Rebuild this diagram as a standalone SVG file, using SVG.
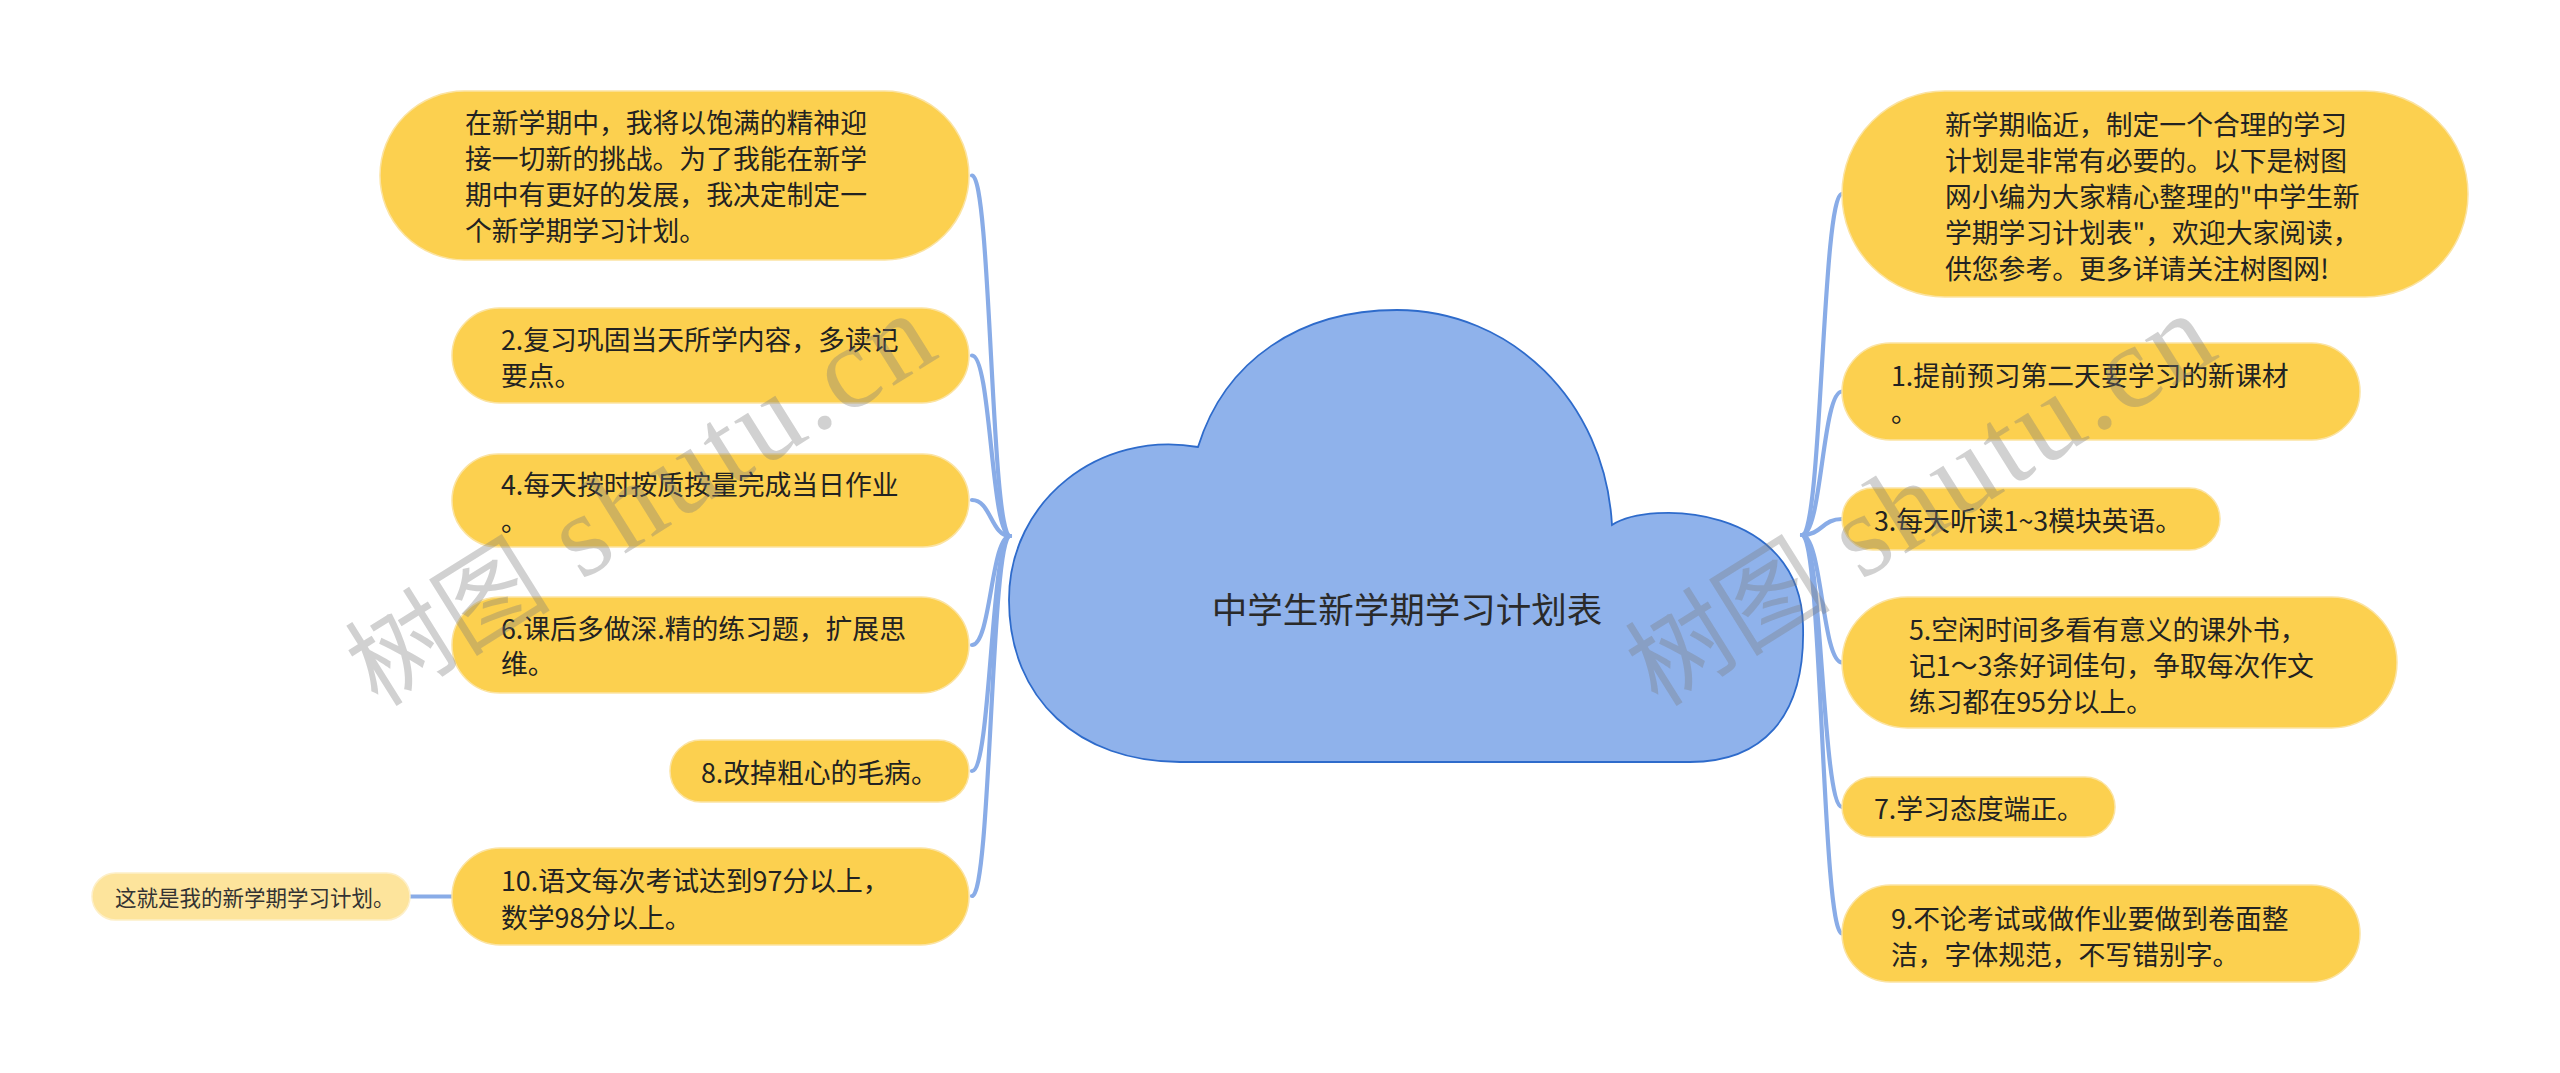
<svg xmlns="http://www.w3.org/2000/svg" width="2560" height="1073" viewBox="0 0 2560 1073">
<style>
.bub{fill:#FCD04F;stroke:#FBE3A2;stroke-width:1.5}
.sub{fill:#FDE49C;stroke:#FDEFC8;stroke-width:1.5}
.t{font-family:"Noto Sans CJK SC","Noto Sans",sans-serif;font-size:26.8px;fill:#222;dominant-baseline:central}
.ts{font-family:"Noto Sans CJK SC","Noto Sans",sans-serif;font-size:21.5px;fill:#333;dominant-baseline:central}
.title{font-family:"Noto Sans CJK SC","Noto Sans",sans-serif;font-size:35.5px;fill:#2a2a2a;dominant-baseline:central;text-anchor:middle}
.c{fill:none;stroke:#89ACE7;stroke-width:4.2;stroke-linecap:round}
.wm{font-family:"Liberation Serif","Noto Sans CJK SC",serif;fill:#7a7a7a;fill-opacity:0.35}
.wc{font-size:103px}
.wl{font-size:118px;letter-spacing:4px}
</style>
<rect width="2560" height="1073" fill="#ffffff"/>
<g id="connectors">
<path class="c" d="M972,175.5 C991,175.5 991,536 1010,536"/>
<path class="c" d="M972,355.5 C991,355.5 991,536 1010,536"/>
<path class="c" d="M972,500 C991,500 991,536 1010,536"/>
<path class="c" d="M972,645 C991,645 991,536 1010,536"/>
<path class="c" d="M972,771 C991,771 991,536 1010,536"/>
<path class="c" d="M972,896 C991,896 991,536 1010,536"/>
<path class="c" d="M1802,535 C1822,535 1822,194 1842,194"/>
<path class="c" d="M1802,535 C1822,535 1822,391.5 1842,391.5"/>
<path class="c" d="M1802,535 C1822,535 1822,519 1842,519"/>
<path class="c" d="M1802,535 C1822,535 1822,662.5 1842,662.5"/>
<path class="c" d="M1802,535 C1822,535 1822,807 1842,807"/>
<path class="c" d="M1802,535 C1822,535 1822,933.5 1842,933.5"/>
<path class="c" d="M410,896.5 L452,896.5"/>
</g>
<g id="root">
<path d="M1198,447 C1225,360 1300,310 1397,310 C1510,310 1605,400 1612,525 C1650,500 1800,505 1803,625 C1806,720 1760,762 1690,762 L1180,762 C1080,762 1009,700 1009,600 C1009,500 1100,430 1198,447 Z" fill="#8FB2EB" stroke="#2E6BCB" stroke-width="1.8"/>
<text class="title" x="1407" y="607">中学生新学期学习计划表</text>
</g>
<g id="nA">
<rect class="bub" x="380" y="91" width="589" height="169" rx="84.5"/>
<text class="t" x="465" y="121.5">在新学期中，我将以饱满的精神迎</text>
<text class="t" x="465" y="157.5">接一切新的挑战。为了我能在新学</text>
<text class="t" x="465" y="193.5">期中有更好的发展，我决定制定一</text>
<text class="t" x="465" y="229.5">个新学期学习计划。</text>
</g>
<g id="n2">
<rect class="bub" x="452" y="308" width="517" height="95" rx="47.5"/>
<text class="t" x="501" y="338.5">2.复习巩固当天所学内容，多读记</text>
<text class="t" x="501" y="374">要点。</text>
</g>
<g id="n4">
<rect class="bub" x="452" y="454" width="517" height="93" rx="46.5"/>
<text class="t" x="501" y="483">4.每天按时按质按量完成当日作业</text>
<text class="t" x="501" y="519">。</text>
</g>
<g id="n6">
<rect class="bub" x="452" y="597" width="517" height="96" rx="48"/>
<text class="t" x="501" y="627.5">6.课后多做深.精的练习题，扩展思</text>
<text class="t" x="501" y="662.5">维。</text>
</g>
<g id="n8">
<rect class="bub" x="670" y="740" width="299" height="62" rx="31"/>
<text class="t" x="701" y="771">8.改掉粗心的毛病。</text>
</g>
<g id="n10">
<rect class="bub" x="452" y="848" width="517" height="97" rx="48.5"/>
<text class="t" x="501" y="879">10.语文每次考试达到97分以上，</text>
<text class="t" x="501" y="916">数学98分以上。</text>
</g>
<g id="n10a">
<rect class="sub" x="92" y="873" width="318" height="47" rx="23.5"/>
<text class="ts" x="115" y="896.5">这就是我的新学期学习计划。</text>
</g>
<g id="nR0">
<rect class="bub" x="1842" y="91" width="626" height="206" rx="103"/>
<text class="t" x="1945" y="123.5">新学期临近，制定一个合理的学习</text>
<text class="t" x="1945" y="159.5">计划是非常有必要的。以下是树图</text>
<text class="t" x="1945" y="195.5">网小编为大家精心整理的"中学生新</text>
<text class="t" x="1945" y="231.5">学期学习计划表"，欢迎大家阅读，</text>
<text class="t" x="1945" y="267.5">供您参考。更多详请关注树图网!</text>
</g>
<g id="n1">
<rect class="bub" x="1842" y="343" width="518" height="97" rx="48.5"/>
<text class="t" x="1891" y="374">1.提前预习第二天要学习的新课材</text>
<text class="t" x="1891" y="410">。</text>
</g>
<g id="n3">
<rect class="bub" x="1842" y="488" width="378" height="62" rx="31"/>
<text class="t" x="1874" y="519">3.每天听读1~3模块英语。</text>
</g>
<g id="n5">
<rect class="bub" x="1842" y="597" width="555" height="131" rx="65.5"/>
<text class="t" x="1909" y="628">5.空闲时间多看有意义的课外书，</text>
<text class="t" x="1909" y="664">记1～3条好词佳句，争取每次作文</text>
<text class="t" x="1909" y="700">练习都在95分以上。</text>
</g>
<g id="n7">
<rect class="bub" x="1842" y="777" width="273" height="60" rx="30"/>
<text class="t" x="1874" y="807">7.学习态度端正。</text>
</g>
<g id="n9">
<rect class="bub" x="1842" y="885" width="518" height="97" rx="48.5"/>
<text class="t" x="1891" y="917.5">9.不论考试或做作业要做到卷面整</text>
<text class="t" x="1891" y="953">洁，字体规范，不写错别字。</text>
</g>
<g id="watermark">
<text class="wm" transform="translate(378,708) rotate(-32)"><tspan class="wc">树图</tspan><tspan class="wl"> shutu.cn</tspan></text>
<text class="wm" transform="translate(1658,708) rotate(-32)"><tspan class="wc">树图</tspan><tspan class="wl"> shutu.cn</tspan></text>
</g>
</svg>
